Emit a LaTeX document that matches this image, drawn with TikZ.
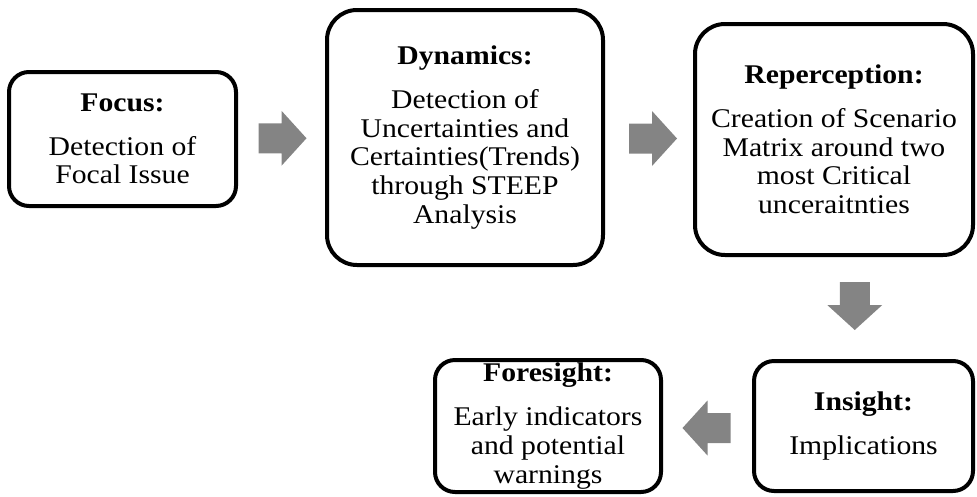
\documentclass[tikz,border=0pt]{standalone}
\usepackage{fontspec}
\setmainfont[FakeStretch=1.1]{Liberation Serif}
\usetikzlibrary{calc}

\definecolor{arrowgray}{RGB}{132,132,132}
\newcommand\stagefont{\fontsize{27}{28.7}\selectfont}

\tikzset{
  stage/.style={draw=black, line width=4pt, rounded corners=20pt,
    align=center, inner sep=0pt, text=black, font=\stagefont},
  bigstage/.style={stage, rounded corners=30pt},
  blockarrow/.pic={
    \fill[arrowgray] (-23,-15) -- (0,-15) -- (0,-27.5) -- (25,0)
      -- (0,27.5) -- (0,15) -- (-23,15) -- cycle;
  },
}

\begin{document}
\begin{tikzpicture}[x=1pt, y=-1pt]
  \useasboundingbox (0,0) rectangle (977,496);

  % the five stages
  \node[stage, minimum width=227pt, minimum height=134pt] (focus) at (122.5,139)
    {\textbf{Focus:}\\[15pt]Detection of\\Focal Issue};
  \node[bigstage, minimum width=276pt, minimum height=255pt] (dyn) at (465,137.5)
    {\textbf{Dynamics:}\\[15pt]Detection of\\Uncertainties and\\Certainties(Trends)\\through STEEP\\Analysis};
  \node[bigstage, minimum width=278pt, minimum height=231pt] (rep) at (834,139.5)
    {\textbf{Reperception:}\\[15pt]Creation of Scenario\\Matrix around two\\most Critical\\unceraitnties};
  \node[stage, minimum width=219pt, minimum height=130pt] (ins) at (863.5,426)
    {\textbf{Insight:}\\[15pt]Implications};
  \node[stage, minimum width=226pt, minimum height=132pt] (fore) at (548,426)
    {\textbf{Foresight:}\\[15pt]Early indicators\\and potential\\warnings};

  % block arrows between the stages
  \coordinate (a1) at ($(focus.east)!0.5!(dyn.west)$);
  \coordinate (a2) at ($(dyn.east)!0.5!(rep.west)+(3,0)$);
  \coordinate (a3) at ($(rep.south)!0.5!(ins.north)+(6,-3)$);
  \coordinate (a4) at ($(ins.west)!0.5!(fore.east)+(0,2)$);
  \pic at (a1) {blockarrow};
  \pic at (a2) {blockarrow};
  \pic[rotate=-90] at (a3) {blockarrow};
  \pic[rotate=180] at (a4) {blockarrow};
\end{tikzpicture}
\end{document}
